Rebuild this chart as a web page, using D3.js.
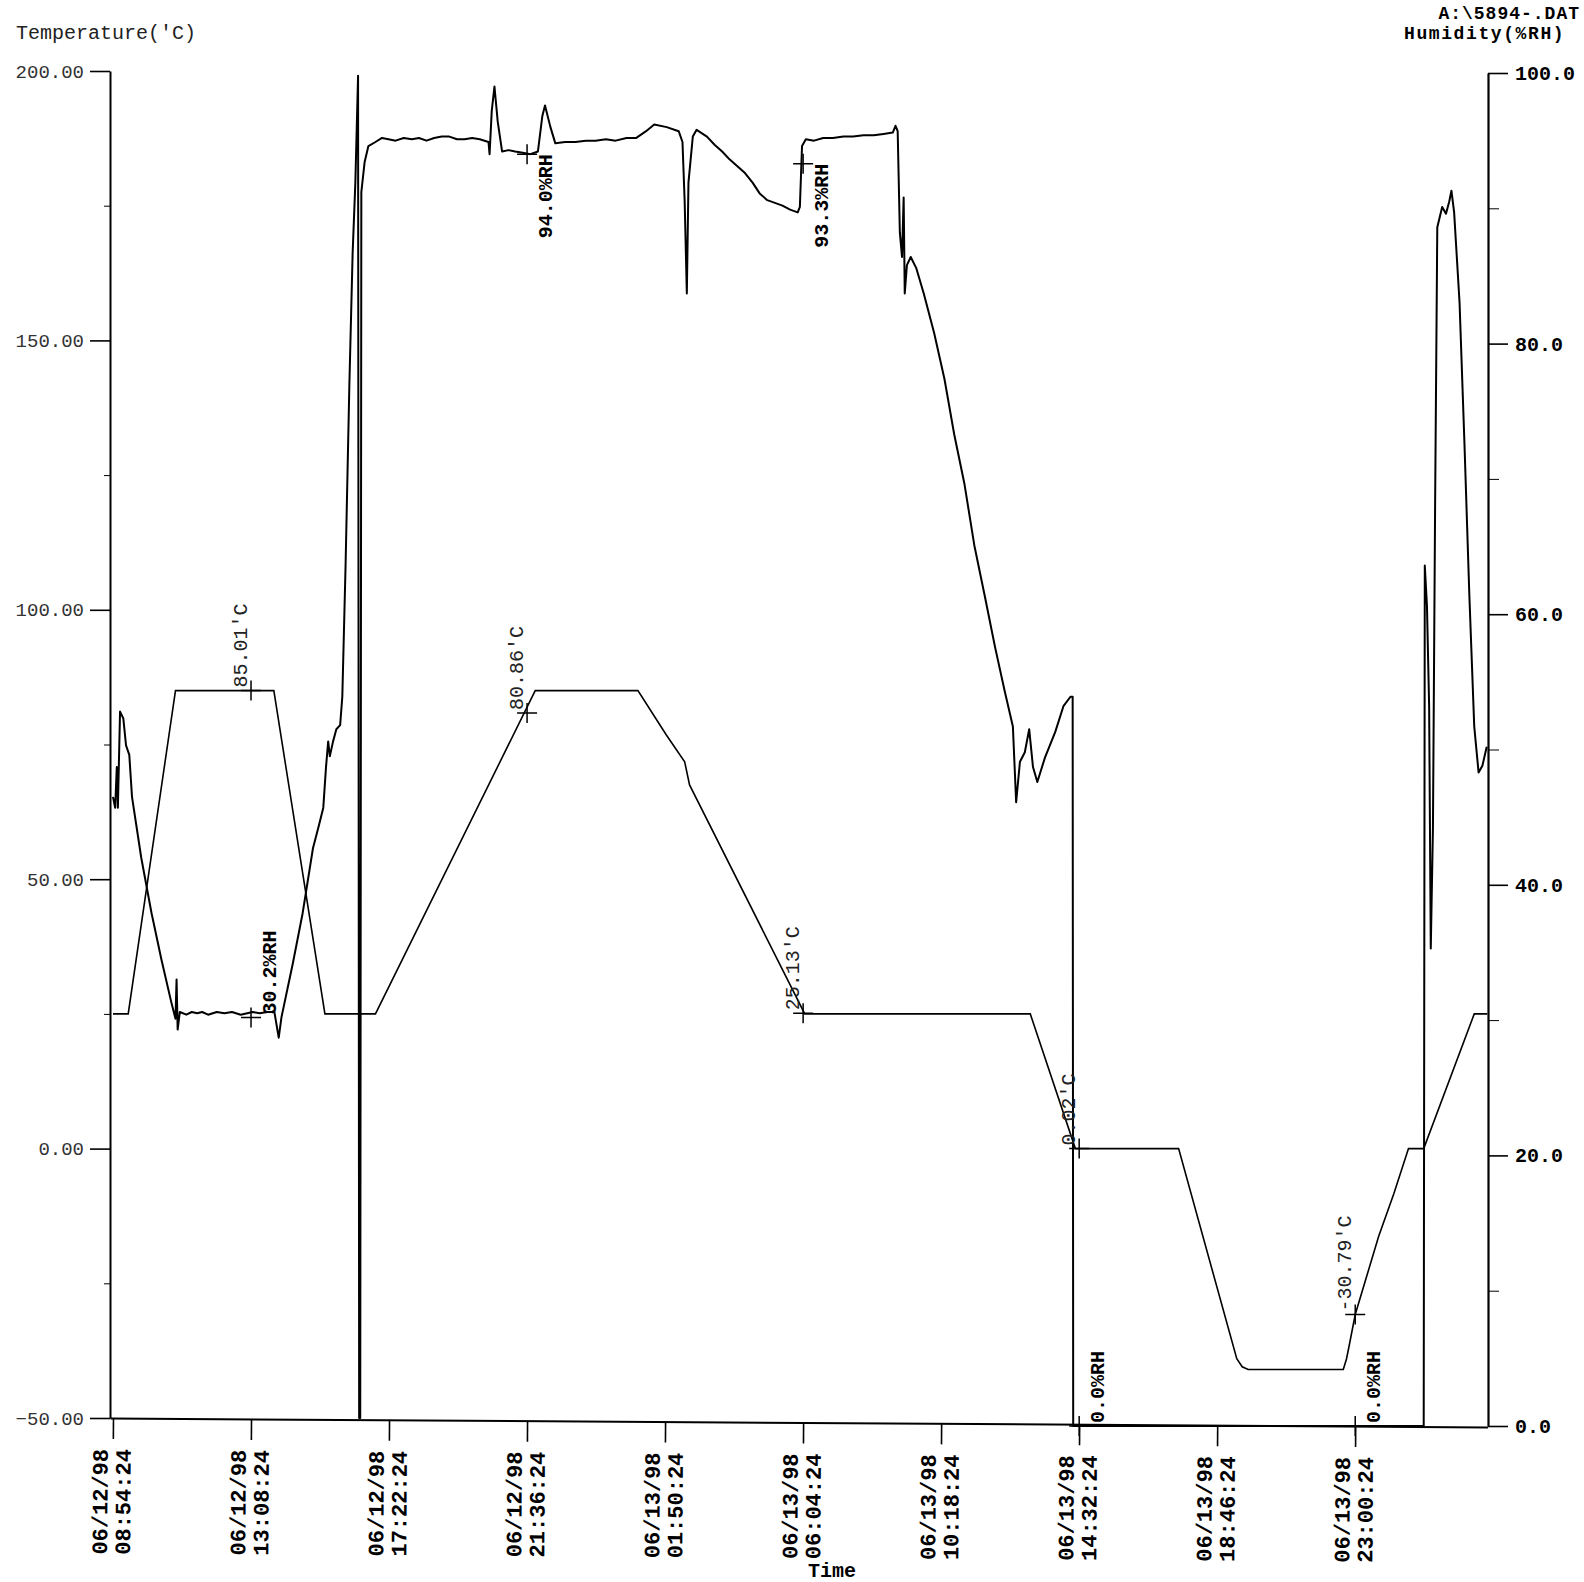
<!DOCTYPE html>
<html><head><meta charset="utf-8">
<script src="https://cdn.jsdelivr.net/npm/d3@7/dist/d3.min.js"></script>
<style>body{margin:0;background:#fff}svg{display:block}</style>
</head><body>
<svg id="c" width="1584" height="1582"></svg>
<script>
// ---- data ----
const startTime = new Date(1998, 5, 12, 8, 54, 24);
const tickStepMinutes = 254;
const tickCount = 10;
const endMinutes = 2529.4;
const tempTicks = [-50, 0, 50, 100, 150, 200];
const tempMinorTicks = [-25, 25, 75, 125, 175];
const humTicks = [0, 20, 40, 60, 80, 100];
const humMinorTicks = [10, 30, 50, 70, 90];

const tempMinutes = [0,28,115,296,390,483,777,966,1018,1052,1061,1273,1688,1771,1961,2068,2078,2089,2264,2270,2275,2286,2305,2329,2357,2384,2412,2505,2529];
const tempValues  = [25,25,85,85,25,25,85,85,76.8,71.8,67.5,25,25,0,0,-39,-40.5,-41,-41,-39,-36.5,-30.8,-24.4,-16.3,-8.4,0,0,25,25];

const humMinutes = [0,4,7,9,13,19,24,30,35,52,71,89,108,115,117,119,123,135,145,155,164,175,191,205,219,235,257,270,284,297,305,310,331,349,368,379,387,392,396,399,405,411,418,422,428,435,441,446,451,453,455,457,463,470,483,495,507,520,535,550,563,577,591,605,619,633,647,661,675,691,693,697,702,708,716,728,740,754,768,782,790,795,805,814,832,851,870,888,907,925,945,963,981,996,1019,1041,1048,1052,1056,1059,1067,1074,1093,1107,1121,1135,1149,1163,1177,1190,1204,1218,1232,1246,1260,1264,1268,1275,1290,1307,1325,1344,1362,1381,1400,1418,1435,1440,1444,1448,1452,1455,1457,1461,1468,1478,1492,1511,1530,1548,1567,1585,1604,1623,1641,1656,1662,1669,1678,1686,1693,1701,1715,1734,1749,1762,1766,1767,1780,1900,2100,2300,2412,2414,2418,2422,2425,2429,2433,2437,2446,2453,2459,2463,2468,2478,2487,2496,2505,2513,2520,2528];
const humValues = [46.5,45.7,48.7,45.7,52.8,52.3,50.3,49.6,46.5,42.0,37.9,34.5,31.2,30.1,33.0,29.3,30.6,30.4,30.6,30.5,30.6,30.4,30.6,30.5,30.6,30.4,30.6,30.5,30.6,30.6,28.7,30.2,34.2,37.9,42.7,44.4,45.7,48.7,50.6,49.5,50.6,51.5,51.8,53.9,63.6,77.0,86.7,91.9,99.8,0.6,0.6,91.2,93.4,94.6,94.9,95.2,95.1,95.0,95.2,95.1,95.2,95.0,95.2,95.3,95.3,95.1,95.1,95.2,95.1,94.9,94.0,97.2,99.0,96.4,94.2,94.3,94.2,94.1,94.0,94.2,96.8,97.6,96.0,94.8,94.9,94.9,95.0,95.0,95.1,95.0,95.2,95.2,95.7,96.2,96.0,95.7,94.9,90.5,83.7,91.9,95.3,95.8,95.3,94.7,94.2,93.6,93.1,92.6,91.9,91.1,90.6,90.4,90.2,89.9,89.7,90.1,94.6,95.1,95.0,95.2,95.2,95.3,95.3,95.4,95.4,95.5,95.6,96.1,95.7,88.2,86.4,90.8,83.7,85.8,86.4,85.6,83.7,80.8,77.4,73.3,69.6,65.1,61.4,57.6,54.3,51.7,46.1,49.1,49.8,51.5,48.7,47.6,49.4,51.3,53.2,53.9,53.9,0,0,0,0,0,0,63.6,60.6,53.2,35.3,44.2,68.1,88.6,90.1,89.6,90.5,91.3,89.7,83.0,72.6,61.4,51.7,48.3,48.8,50.2];

// cursor readouts at labelled times
const cursorMinutes = [254, 762, 1270, 1778, 2286];
const cursorTemps = [85.01, 80.86, 25.13, 0.02, -30.79];
const cursorHums = [30.2, 94.0, 93.3, 0.0, 0.0];

const leftTitle = "Temperature('C)";
const fileTitle = "A:\\5894-.DAT";
const rightTitle = "Humidity(%RH)";
const xTitle = "Time";

// ---- drawing ----
const mono = "'Liberation Mono','DejaVu Sans Mono',monospace";
const svg = d3.select("#c");
const t = m => new Date(startTime.getTime() + m * 60000);

const x = d3.scaleTime().domain([t(-5.5), t(endMinutes)]).range([110, 1487.5]);
const yT = d3.scaleLinear().domain([-50, 200]).range([1418, 71]);
const yH = d3.scaleLinear().domain([0, 100]).range([1426, 73]);

// titles
svg.append("text").attr("x", 16).attr("y", 39).attr("font-family", mono).attr("font-size", 20)
  .attr("fill", "#222").text(leftTitle);
svg.append("text").attr("x", 1580).attr("y", 19).attr("text-anchor", "end").attr("font-family", mono).attr("font-size", 18)
  .attr("letter-spacing", 1.0).attr("font-weight", "bold").text(fileTitle);
svg.append("text").attr("x", 1404).attr("y", 39).attr("font-family", mono).attr("font-size", 18)
  .attr("letter-spacing", 1.6).attr("font-weight", "bold").text(rightTitle);

// left axis
const gL = svg.append("g").attr("transform", "translate(110,0)")
  .call(d3.axisLeft(yT).tickValues(tempTicks).tickFormat(d3.format(".2f")).tickSize(20).tickSizeOuter(0).tickPadding(6));
gL.select(".domain").attr("stroke-width", 2);
gL.selectAll(".tick line").attr("stroke-width", 1.6);
gL.selectAll("text").attr("font-family", mono).attr("font-size", 19).attr("fill", "#333");
svg.append("g").attr("transform", "translate(110,0)")
  .call(d3.axisLeft(yT).tickValues(tempMinorTicks).tickFormat("").tickSize(6).tickSizeOuter(0))
  .select(".domain").remove();

// right axis
const gR = svg.append("g").attr("transform", "translate(1488,0)")
  .call(d3.axisRight(yH).tickValues(humTicks).tickFormat(d3.format(".1f")).tickSize(20).tickSizeOuter(0).tickPadding(7));
gR.select(".domain").attr("stroke-width", 2.2);
gR.selectAll(".tick line").attr("stroke-width", 1.6);
gR.selectAll("text").attr("font-family", mono).attr("font-size", 20).attr("font-weight", "bold").attr("fill", "#000");
svg.append("g").attr("transform", "translate(1488,0)")
  .call(d3.axisRight(yH).tickValues(humMinorTicks).tickFormat("").tickSize(11).tickSizeOuter(0))
  .select(".domain").remove();

// bottom axis (scan is slightly skewed)
const tickTimes = d3.range(tickCount).map(i => t(i * tickStepMinutes));
const gX = svg.append("g").attr("transform", "translate(0,1418) rotate(0.37,110,0)");
gX.call(d3.axisBottom(x).tickValues(tickTimes).tickFormat("").tickSize(21).tickSizeOuter(0));
gX.select(".domain").attr("stroke-width", 2);
gX.selectAll(".tick line").attr("stroke-width", 1.6);
const fDate = d3.timeFormat("%m/%d/%y"), fTime = d3.timeFormat("%H:%M:%S");
const lab = gX.selectAll(".lab").data(tickTimes).join("g").attr("class", "lab")
  .attr("transform", d => `translate(${x(d)},31) rotate(-90)`);
lab.append("text").attr("x", 0).attr("y", -5).attr("text-anchor", "end").attr("fill", "#000")
  .attr("font-family", mono).attr("font-size", 22).attr("font-weight", "bold").text(d => fDate(d));
lab.append("text").attr("x", 0).attr("y", 18).attr("text-anchor", "end").attr("fill", "#000")
  .attr("font-family", mono).attr("font-size", 22).attr("font-weight", "bold").text(d => fTime(d));
svg.append("text").attr("x", 832).attr("y", 1577).attr("text-anchor", "middle")
  .attr("font-family", mono).attr("font-size", 20).attr("font-weight", "bold").text(xTitle);

// series
const tempData = tempMinutes.map((m, i) => [t(m), tempValues[i]]);
const humData = humMinutes.map((m, i) => [t(m), humValues[i]]);
svg.append("path").datum(tempData).attr("fill", "none").attr("stroke", "#000").attr("stroke-width", 1.6)
  .attr("d", d3.line().x(d => x(d[0])).y(d => yT(d[1])));
svg.append("path").datum(humData).attr("fill", "none").attr("stroke", "#000").attr("stroke-width", 2)
  .attr("stroke-linejoin", "round")
  .attr("d", d3.line().x(d => x(d[0])).y(d => yH(d[1])));

// cursor readouts
const cross = "M-10,0H10M0,-10V10";
cursorMinutes.forEach((m, i) => {
  const cx = x(t(m));
  const ty = yT(cursorTemps[i]);
  svg.append("path").attr("d", cross).attr("transform", `translate(${cx},${ty})`)
    .attr("stroke", "#000").attr("stroke-width", 1.5);
  svg.append("text").attr("transform", `translate(${cx},${ty}) rotate(-90)`)
    .attr("x", 3).attr("y", -4).attr("font-family", mono).attr("font-size", 20).attr("fill", "#222")
    .text(cursorTemps[i].toFixed(2) + "'C");
  const hy = yH(cursorHums[i]);
  svg.append("path").attr("d", cross).attr("transform", `translate(${cx},${hy})`)
    .attr("stroke", "#000").attr("stroke-width", 1.5);
  const down = cursorHums[i] > 80;
  svg.append("text").attr("transform", `translate(${cx},${hy}) rotate(-90)`)
    .attr("x", down ? 0 : 3).attr("y", 25).attr("text-anchor", down ? "end" : "start")
    .attr("font-family", mono).attr("font-size", 20).attr("font-weight", "bold")
    .text(cursorHums[i].toFixed(1) + "%RH");
});
</script>
</body></html>
